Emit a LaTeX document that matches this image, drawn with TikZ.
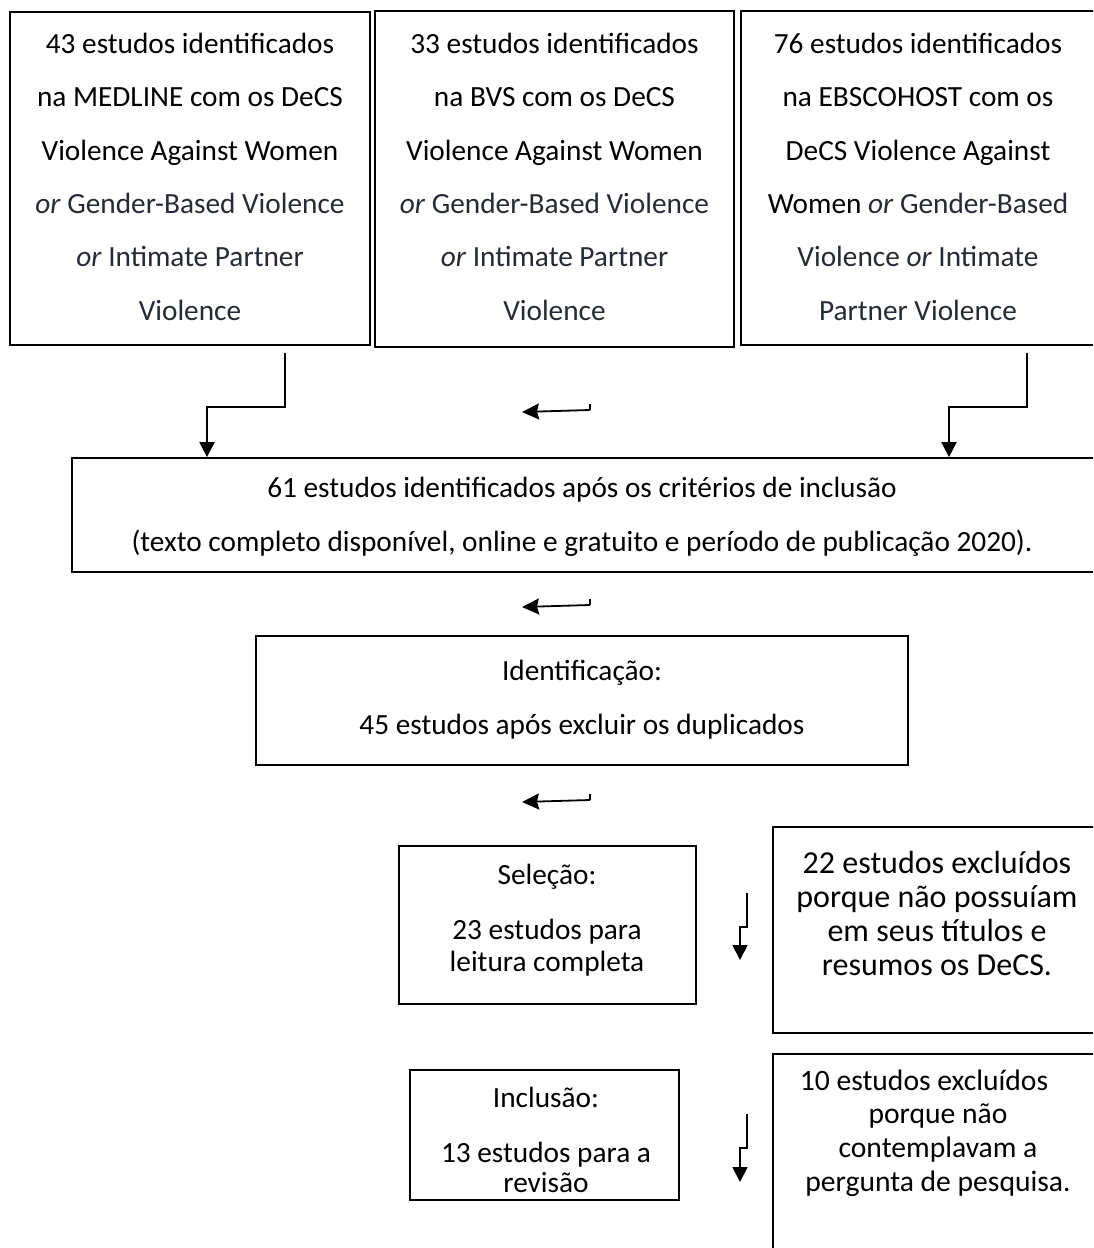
\documentclass[tikz,border=0pt]{standalone}
\usepackage{fontspec}
\setmainfont{Carlito}
\usetikzlibrary{arrows.meta}
\definecolor{tg}{HTML}{262B33}
\newcommand\mystrut{\rule[-0.2em]{0pt}{1em}}
\begin{document}
\begin{tikzpicture}[x=1pt,y=-1pt,
  box/.style={draw, line width=1.8pt, inner sep=0pt, rectangle},
  txt/.style={align=center, inner sep=0pt},
  arr/.style={line width=1.8pt, -{Triangle[width=15pt,length=15pt]}},
  larr/.style={line width=1.8pt, -{Stealth[width=16pt,length=17pt,inset=2pt]}},
  tick/.style={line width=1.8pt}]
\clip (0,0) rectangle (1093,1248);
\fill[white] (0,0) rectangle (1093,1248);

% boxes
\node[box, minimum width=360pt, minimum height=333pt] (b1) at (190,178.5) {};
\node[box, minimum width=359pt, minimum height=336pt] (b2) at (554.5,179) {};
\node[box, minimum width=355pt, minimum height=334pt] (b3) at (918.5,178) {};
\node[box, minimum width=1023pt, minimum height=114pt] (b4) at (583.5,515) {};
\node[box, minimum width=652pt, minimum height=129pt] (b5) at (582,700.5) {};
\node[box, minimum width=297pt, minimum height=158pt] (b6) at (547.5,925) {};
\node[box, minimum width=328pt, minimum height=206pt] (b7) at (937,930) {};
\node[box, minimum width=269pt, minimum height=130pt] (b8) at (544.5,1135) {};
\node[box, minimum width=334pt, minimum height=206pt] (b9) at (940,1157) {};

% texts
\node[txt, font=\fontsize{29.3}{53.3}\selectfont] (t1) at (190,178) {%
\mystrut 43 estudos identificados\\
\mystrut na MEDLINE com os DeCS\\
\mystrut Violence Against Women\\
\mystrut\textcolor{tg}{\textit{or} Gender-Based Violence}\\
\mystrut\textcolor{tg}{\textit{or} Intimate Partner}\\
\mystrut\textcolor{tg}{Violence}};
\node[txt, font=\fontsize{29.3}{53.3}\selectfont] (t2) at (554.5,178) {%
\mystrut 33 estudos identificados\\
\mystrut na BVS com os DeCS\\
\mystrut Violence Against Women\\
\mystrut\textcolor{tg}{\textit{or} Gender-Based Violence}\\
\mystrut\textcolor{tg}{\textit{or} Intimate Partner}\\
\mystrut\textcolor{tg}{Violence}};
\node[txt, font=\fontsize{29.3}{53.3}\selectfont] (t3) at (918,178) {%
\mystrut 76 estudos identificados\\
\mystrut na EBSCOHOST com os\\
\mystrut DeCS Violence Against\\
\mystrut Women \textcolor{tg}{\textit{or} Gender-Based}\\
\mystrut\textcolor{tg}{Violence \textit{or} Intimate}\\
\mystrut\textcolor{tg}{Partner Violence}};
\node[txt, font=\fontsize{29.3}{54}\selectfont] (t4) at (582,516) {%
\mystrut 61 estudos identificados após os critérios de inclusão\\
\mystrut (texto completo disponível, online e gratuito e período de publicação 2020).};
\node[txt, font=\fontsize{29.3}{54}\selectfont] (t5) at (582,699) {%
\mystrut Identificação:\\
\mystrut 45 estudos após excluir os duplicados};
\node[txt, font=\fontsize{29.3}{32}\selectfont] (t6) at (547,919.5) {%
\mystrut Seleção:\\[23pt]
\mystrut 23 estudos para\\
\mystrut leitura completa};
\node[txt, font=\fontsize{32}{34}\selectfont] (t7) at (937,915) {%
\mystrut 22 estudos excluídos\\
\mystrut porque não possuíam\\
\mystrut em seus títulos e\\
\mystrut resumos os DeCS.};
\node[txt, font=\fontsize{29.3}{30}\selectfont] (t8) at (546,1141.5) {%
\mystrut Inclusão:\\[25pt]
\mystrut 13 estudos para a\\
\mystrut revisão};
\node[txt, font=\fontsize{29.6}{33.8}\selectfont] (t9) at (938,1132) {%
\mystrut 10 estudos excluídos\hspace*{28pt}\\
\mystrut porque não\\
\mystrut contemplavam a\\
\mystrut pergunta de pesquisa.};

% connectors from top boxes
\coordinate (s1) at (285,353);
\coordinate (j1) at (207,407);
\draw[arr] (s1) |- (j1) -- (j1 |- b4.north);
\coordinate (s3) at (1027,353);
\coordinate (j3) at (949,407);
\draw[arr] (s3) |- (j3) -- (j3 |- b4.north);

% left arrows
\coordinate (a1s) at (590,410);
\coordinate (a1e) at (522,412);
\draw[larr] (a1s) -- (a1e);
\draw[tick] (a1s) -- ++(0,-6);
\coordinate (a2s) at (590,605);
\coordinate (a2e) at (522,607);
\draw[larr] (a2s) -- (a2e);
\draw[tick] (a2s) -- ++(0,-6);
\coordinate (a3s) at (590,800);
\coordinate (a3e) at (522,802);
\draw[larr] (a3s) -- (a3e);
\draw[tick] (a3s) -- ++(0,-6);

% small down arrows
\coordinate (m1) at (747,893);
\coordinate (k1) at (740,927);
\draw[arr] (m1) |- (k1) -- ++(0,33);
\coordinate (m2) at (747,1114);
\coordinate (k2) at (740,1148);
\draw[arr] (m2) |- (k2) -- ++(0,34);
\end{tikzpicture}
\end{document}
